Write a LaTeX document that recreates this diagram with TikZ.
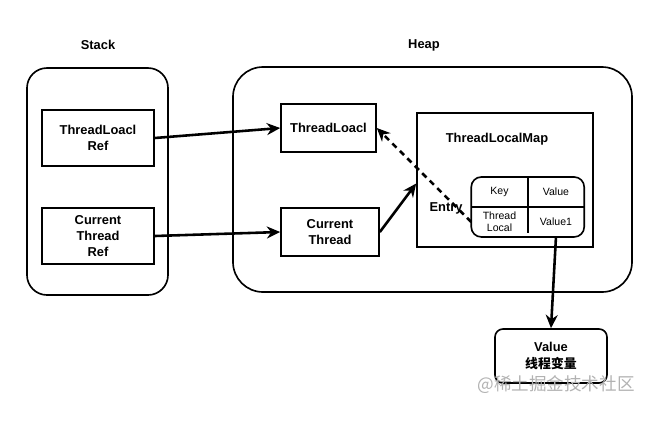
\documentclass[tikz,border=0pt]{standalone}
\usepackage{fontspec}
\setmainfont{Liberation Sans}
\newfontfamily\cjk{Noto Sans CJK SC}
\usepackage{xcolor}
\usetikzlibrary{arrows.meta, positioning, fit}

\begin{document}
\begin{tikzpicture}[
    x=0.03cm, y=-0.03cm,
    >={Stealth[length=4mm, width=3.6mm]},
    every node/.style={font=\fontsize{11}{14}\selectfont\bfseries, align=center},
    area/.style={draw, line width=1.4pt, rounded corners=0.75cm},
    box/.style={draw, line width=1.4pt, rectangle, minimum width=3.36cm, minimum height=1.68cm},
    cell/.style={rectangle, inner sep=1pt, minimum width=1.68cm, minimum height=0.885cm,
                 font=\fontsize{9}{10.5}\selectfont},
    link/.style={->, line width=2.2pt},
]
    \useasboundingbox (0,0) rectangle (668,438);

    % Stack (left)
    \node (stacklbl) at (98,45) {Stack};
    \node[area, minimum width=4.23cm, minimum height=6.81cm, rounded corners=0.6cm] (stack) at (97.5,181.5) {};
    \node[box] (tlref) at (98,138) {ThreadLoacl\\Ref};
    \node[box] (ctref) at (98,236) {Current\\Thread\\Ref};

    % Heap (right)
    \node (heaplbl) at (424,45) {Heap};
    \node[area, minimum width=11.97cm, minimum height=6.75cm, rounded corners=0.9cm] (heap) at (432.5,179.5) {};
    \node[box, minimum width=2.85cm, minimum height=1.44cm] (tl) at (328.5,128) {ThreadLoacl};
    \node[box, minimum width=2.94cm, minimum height=1.44cm] (ct) at (330,232) {Current\\Thread};
    \node[box, minimum width=5.28cm, minimum height=4.02cm] (map) at (505,180) {};
    \node (maplbl) at (497,139) {ThreadLocalMap};

    % Entry table
    \node[cell] (key) at (499.5,192) {Key};
    \node[cell, right=0pt of key] (valhd) {Value};
    \node[cell, below=0pt of key] (tlcell) {Thread\\Local};
    \node[cell, right=0pt of tlcell] (v1cell) {Value1};
    \node[draw, line width=1.4pt, rounded corners=0.3cm, inner sep=0pt, fit=(key)(v1cell)] (entry) {};
    \draw[line width=1.4pt] (tlcell.north west) -- (v1cell.north east);
    \draw[line width=1.4pt] (key.north east) -- ([yshift=3pt]tlcell.south east);
    \node (entrylbl) at (446,208) {Entry};

    % Value object
    \node[box, rounded corners=0.24cm, minimum height=1.62cm] (val) at (551,356)
        {Value\\{\cjk\bfseries 线程变量}};

    % References
    \draw[link] (tlref.east) -- (tl.west);
    \draw[link] (ctref.east) -- (ct.west);
    \draw[link] (ct.east) -- ([yshift=-3pt]map.west);
    \draw[link, dash pattern=on 5pt off 4pt] (tlcell.west) -- (tl.east);
    \draw[link] (v1cell.south) -- (val.north);

    % Watermark
    \node[font=\cjk\fontsize{15}{17}\selectfont, text=black!30] (mark) at (556,385) {@稀土掘金技术社区};
\end{tikzpicture}
\end{document}
